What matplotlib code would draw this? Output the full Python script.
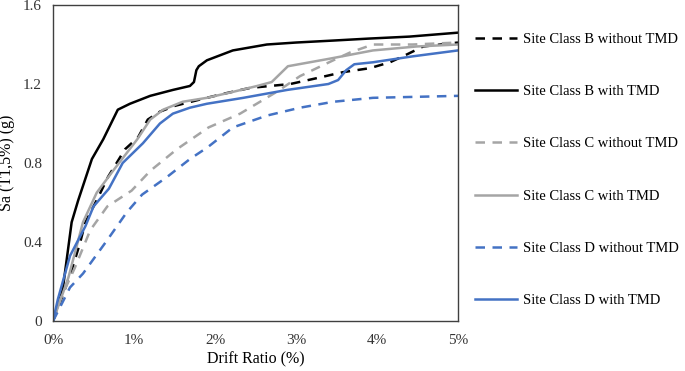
import numpy as np
import matplotlib
matplotlib.use("Agg")
import matplotlib.pyplot as plt

plt.rcParams['font.family'] = ['Liberation Serif', 'DejaVu Serif']

# drift ratio (%) / Sa (g)
b_without_x = [0, 0.12, 0.24, 0.33, 0.40, 0.55, 0.68, 0.89, 1.05, 1.17, 1.32, 1.51, 1.8, 2.1, 2.43, 2.93, 3.26, 3.58, 3.91, 4.16, 4.37, 4.57, 5.0]
b_without_y = [0, 0.13, 0.27, 0.39, 0.50, 0.62, 0.73, 0.87, 0.93, 1.02, 1.06, 1.09, 1.12, 1.15, 1.18, 1.20, 1.23, 1.26, 1.28, 1.31, 1.35, 1.39, 1.41]

b_with_x = [0, 0.12, 0.23, 0.31, 0.48, 0.62, 0.80, 0.95, 1.2, 1.48, 1.69, 1.74, 1.77, 1.80, 1.9, 2.22, 2.64, 3.0, 3.46, 3.9, 4.4, 5.0]
b_with_y = [0, 0.16, 0.50, 0.61, 0.82, 0.92, 1.07, 1.10, 1.14, 1.17, 1.19, 1.21, 1.27, 1.29, 1.32, 1.37, 1.40, 1.41, 1.42, 1.43, 1.44, 1.46]

c_without_x = [0, 0.09, 0.27, 0.46, 0.67, 0.97, 1.2, 1.53, 1.92, 2.31, 2.76, 3.05, 3.46, 3.67, 3.95, 4.44, 5.0]
c_without_y = [0, 0.11, 0.27, 0.46, 0.58, 0.66, 0.76, 0.87, 0.98, 1.05, 1.16, 1.24, 1.32, 1.36, 1.40, 1.40, 1.41]

c_with_x = [0, 0.19, 0.37, 0.54, 0.74, 1.04, 1.20, 1.36, 1.6, 1.9, 2.22, 2.52, 2.70, 2.8, 2.9, 3.17, 3.44, 3.95, 4.49, 5.0]
c_with_y = [0, 0.22, 0.50, 0.65, 0.76, 0.92, 1.02, 1.07, 1.11, 1.13, 1.16, 1.19, 1.21, 1.25, 1.29, 1.31, 1.33, 1.37, 1.39, 1.40]

d_without_x = [0, 0.05, 0.21, 0.37, 0.67, 0.91, 1.1, 1.41, 1.69, 1.91, 2.22, 2.64, 3.05, 3.46, 3.95, 5.0]
d_without_y = [0, 0.04, 0.17, 0.24, 0.41, 0.55, 0.64, 0.73, 0.82, 0.88, 0.98, 1.04, 1.08, 1.11, 1.13, 1.14]

d_with_x = [0, 0.06, 0.21, 0.40, 0.50, 0.69, 0.86, 1.11, 1.32, 1.48, 1.69, 1.9, 2.35, 2.89, 3.40, 3.52, 3.62, 3.72, 3.95, 4.44, 5.0]
d_with_y = [0, 0.11, 0.33, 0.48, 0.58, 0.67, 0.80, 0.90, 1.00, 1.05, 1.08, 1.10, 1.13, 1.17, 1.20, 1.22, 1.27, 1.30, 1.31, 1.34, 1.37]

x_ticks = [0, 1, 2, 3, 4, 5]
x_tick_labels = ['0%', '1%', '2%', '3%', '4%', '5%']
y_ticks = [0, 0.4, 0.8, 1.2, 1.6]
y_tick_labels = ['0', '0.4', '0.8', '1.2', '1.6']

black = '#000000'
grey = '#A5A5A5'
blue = '#4472C4'
dash = (3.8, 3.0)

fig = plt.figure(figsize=(6.85, 3.71), dpi=100)
ax = fig.add_axes([0.0774, 0.1348, 0.5912, 0.8517])

ax.plot(b_without_x, b_without_y, color=black, lw=1.8, dashes=dash, label='Site Class B without TMD')
ax.plot(b_with_x, b_with_y, color=black, lw=1.8, label='Site Class B with TMD')
ax.plot(c_without_x, c_without_y, color=grey, lw=1.8, dashes=dash, label='Site Class C without TMD')
ax.plot(c_with_x, c_with_y, color=grey, lw=1.8, label='Site Class C with TMD')
ax.plot(d_without_x, d_without_y, color=blue, lw=1.8, dashes=dash, label='Site Class D without TMD')
ax.plot(d_with_x, d_with_y, color=blue, lw=1.8, label='Site Class D with TMD')

ax.set_xlim(0, 5)
ax.set_ylim(0, 1.6)
ax.set_xticks(x_ticks)
ax.set_xticklabels(x_tick_labels)
ax.set_yticks(y_ticks)
ax.set_yticklabels(y_tick_labels)
ax.tick_params(axis='x', length=0, labelsize=11, pad=9.5, colors='#333333')
ax.tick_params(axis='y', length=0, labelsize=11, pad=8, colors='#333333')
for s in ax.spines.values():
    s.set_color('#404040')
    s.set_linewidth(1.0)

ax.set_xlabel('Drift Ratio (%)', fontsize=11.5, labelpad=3)
ax.set_ylabel('Sa (T1,5%) (g)', fontsize=11.5, labelpad=6)

ax.legend(loc='upper left', bbox_to_anchor=(0.685, 0.928), bbox_transform=fig.transFigure,
          frameon=False, fontsize=10.5, labelspacing=2.68, handlelength=2.9,
          handletextpad=0.4, borderaxespad=0)

fig.savefig('out.png', dpi=100)
